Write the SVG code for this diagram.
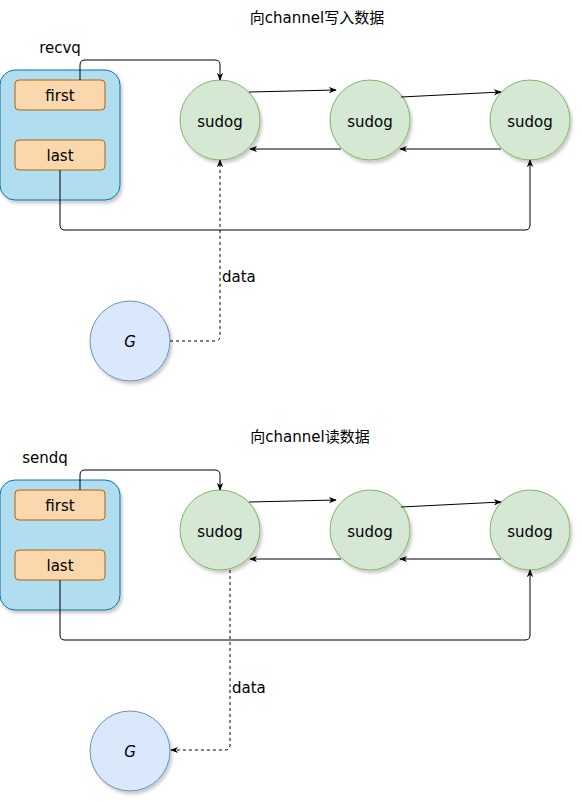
<svg xmlns="http://www.w3.org/2000/svg" width="582" height="802" viewBox="0 0 582 802">
<defs>
<filter id="sh" x="-20%" y="-20%" width="150%" height="150%">
<feDropShadow dx="2" dy="3" stdDeviation="1.5" flood-color="#000" flood-opacity="0.2"/>
</filter>
<marker id="ah" viewBox="0 0 10 10" refX="9" refY="5" markerWidth="8" markerHeight="8" orient="auto" markerUnits="userSpaceOnUse">
<path d="M0,1 L10,5 L0,9 L3,5 Z" fill="#000"/>
</marker>
</defs>
<style>
text{font-family:"Comic Sans MS","DejaVu Sans","Noto Sans CJK SC",sans-serif;font-size:15px;fill:#000;}
.c{text-anchor:middle;dominant-baseline:central;}
.box{fill:#b1ddf0;stroke:#10739e;stroke-width:1;filter:url(#sh);}
.fld{fill:#fad7ac;stroke:#b46504;stroke-width:1;}
.sd{fill:#d5e8d4;stroke:#82b366;stroke-width:1;filter:url(#sh);}
.g{fill:#dae8fc;stroke:#6c8ebf;stroke-width:1;filter:url(#sh);}
.ln{fill:none;stroke:#000;stroke-width:1;marker-end:url(#ah);}
.dl{fill:none;stroke:#000;stroke-width:1;stroke-dasharray:3 3;marker-end:url(#ah);}
</style>
<rect width="582" height="802" fill="#fff"/>

<!-- Top section -->
<text class="c" x="317" y="18">向channel写入数据</text>
<text class="c" x="60" y="48">recvq</text>
<g id="recvq">
<rect class="box" x="0" y="70" width="120" height="130" rx="15"/>
</g>
<g id="recvq-first"><rect class="fld" x="15" y="80" width="90" height="30" rx="4"/><text class="c" x="60" y="96">first</text></g>
<g id="recvq-last"><rect class="fld" x="15" y="140" width="90" height="30" rx="4"/><text class="c" x="60" y="156">last</text></g>
<g id="r-sudog1"><circle class="sd" cx="220" cy="120" r="40"/><text class="c" x="220" y="122">sudog</text></g>
<g id="r-sudog2"><circle class="sd" cx="370" cy="120" r="40"/><text class="c" x="370" y="122">sudog</text></g>
<g id="r-sudog3"><circle class="sd" cx="530" cy="120" r="40"/><text class="c" x="530" y="122">sudog</text></g>
<g id="r-G"><circle class="g" cx="130" cy="341" r="40"/><text class="c" x="130" y="342" font-style="italic">G</text></g>

<!-- Bottom section -->
<text class="c" x="310" y="437">向channel读数据</text>
<text class="c" x="45" y="458">sendq</text>
<g id="sendq">
<rect class="box" x="0" y="480" width="120" height="130" rx="15"/>
</g>
<g id="sendq-first"><rect class="fld" x="15" y="490" width="90" height="30" rx="4"/><text class="c" x="60" y="506">first</text></g>
<g id="sendq-last"><rect class="fld" x="15" y="550" width="90" height="30" rx="4"/><text class="c" x="60" y="566">last</text></g>
<g id="s-sudog1"><circle class="sd" cx="220" cy="530" r="40"/><text class="c" x="220" y="532">sudog</text></g>
<g id="s-sudog2"><circle class="sd" cx="370" cy="530" r="40"/><text class="c" x="370" y="532">sudog</text></g>
<g id="s-sudog3"><circle class="sd" cx="530" cy="530" r="40"/><text class="c" x="530" y="532">sudog</text></g>
<g id="s-G"><circle class="g" cx="130" cy="751" r="40"/><text class="c" x="130" y="752" font-style="italic">G</text></g>

<g id="connectors">
<path class="ln" d="M80,80 V65 Q80,60 85,60 H215 Q220,60 220,65 V80"/>
<path class="ln" d="M60,170 V225 Q60,230 65,230 H525 Q530,230 530,225 V160"/>
<path class="ln" d="M249,92 L336,90"/>
<path class="ln" d="M401,97 L501,92"/>
<path class="ln" d="M501,149 L400,149"/>
<path class="ln" d="M341,149 L250,149"/>
<path class="dl" d="M170,341 H215 Q220,341 220,336 V160"/>
<text x="222" y="282">data</text>

<path class="ln" d="M80,490 V475 Q80,470 85,470 H215 Q220,470 220,475 V490"/>
<path class="ln" d="M60,580 V635 Q60,640 65,640 H525 Q530,640 530,635 V570"/>
<path class="ln" d="M249,502 L336,500"/>
<path class="ln" d="M401,507 L501,502"/>
<path class="ln" d="M501,559 L400,559"/>
<path class="ln" d="M341,559 L250,559"/>
<path class="dl" d="M230,570 V745 Q230,750 225,750 H171"/>
<text x="232" y="693">data</text>
</g>
</svg>
